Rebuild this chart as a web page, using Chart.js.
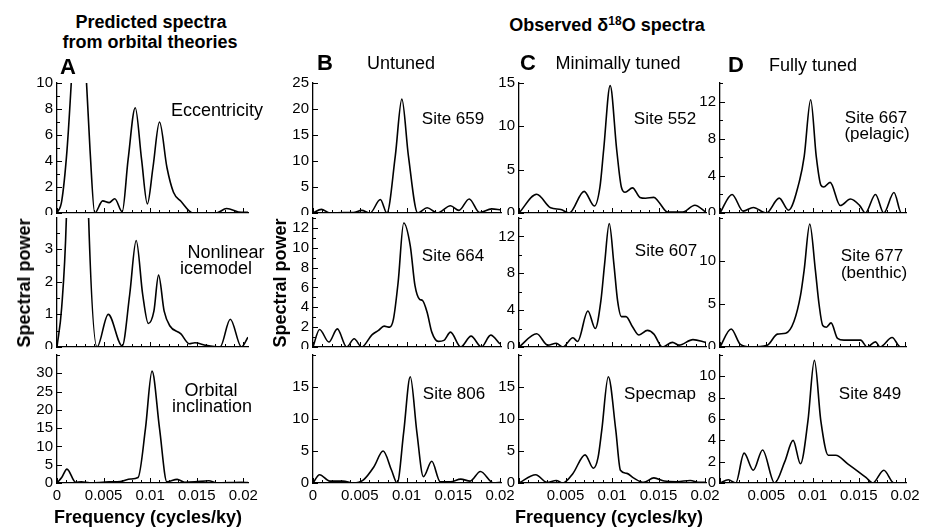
<!DOCTYPE html>
<html>
<head>
<meta charset="utf-8">
<script src="https://cdn.jsdelivr.net/npm/chart.js@4.4.1/dist/chart.umd.min.js"></script>
<style>
  html, body { margin: 0; padding: 0; background: #fff; }
  #fig { position: relative; width: 925px; height: 529px; overflow: hidden;
         font-family: "Liberation Sans", Arial, Helvetica, sans-serif; color: #000; }
  #fig canvas { position: absolute; }
  .t { position: absolute; white-space: nowrap; transform: translate(-50%, -50%);
       font-size: 18px; line-height: 1; }
  .b { font-weight: bold; }
  .s { font-size: 17px; }
  .rot { transform: translate(-50%, -50%) rotate(-90deg); }
  sup { font-size: 12px; vertical-align: 6px; line-height: 0; }
</style>
</head>
<body>
<div id="fig"></div>
<script>
// ---- data (frequency in cycles/ky, spectral power) ----

// A: predicted spectra
const freqEcc = [0, 0.0005, 0.00107, 0.00153, 0.0024, 0.00317, 0.00355, 0.00405, 0.0049, 0.0056, 0.0062, 0.007, 0.00763, 0.0084, 0.00908, 0.0097, 0.0103, 0.011, 0.0118, 0.0125, 0.0133, 0.0146, 0.0171, 0.0182, 0.0198, 0.0205];
const powEcc  = [0, 0.9, 4.8, 10, 22, 10, 4.8, 0, 0.93, 0.8, 1.1, 0.1, 4.1, 8.1, 4.1, 0.7, 3.5, 7.0, 3.5, 1.6, 0.9, 0, 0, 0.35, 0.05, 0.05];

const freqIce = [0, 0.0005, 0.001, 0.0022, 0.0034, 0.0043, 0.0055, 0.007, 0.0078, 0.0085, 0.0092, 0.0098, 0.0104, 0.0109, 0.0115, 0.0121, 0.0133, 0.0142, 0.0148, 0.016, 0.0175, 0.0186, 0.0198, 0.0205];
const powIce  = [0, 1.2, 3.9, 20, 3.9, 0, 1.0, 0.03, 1.6, 3.26, 1.6, 0.72, 1.1, 2.2, 1.1, 0.65, 0.4, 0.1, 0.13, 0.05, 0, 0.85, 0, 0.3];

const freqIncl = [0, 0.0005, 0.00107, 0.002, 0.0026, 0.0035, 0.0049, 0.0056, 0.0068, 0.0079, 0.0087, 0.0095, 0.0102, 0.011, 0.0118, 0.0129, 0.0137, 0.0148, 0.0163, 0.0171, 0.0198, 0.0205];
const powIncl  = [0, 1.5, 3.8, 0.2, 0.3, 0.05, 0.2, 0.3, 0.4, 1.1, 1.5, 15, 30.6, 15, 0.3, 1.0, 0.2, 0.3, 0.6, 0.05, 0.2, 0.1];

// B: untuned
const freq659 = [0, 0.0009, 0.0018, 0.0033, 0.0043, 0.0052, 0.0061, 0.0072, 0.0079, 0.0088, 0.0095, 0.0102, 0.0112, 0.0122, 0.0133, 0.0147, 0.0156, 0.0167, 0.0178, 0.0191, 0.0201];
const pow659  = [0, 0.7, 0, 0.1, 0.1, 0.5, 0, 2.6, 0, 11, 21.9, 11, 0, 1.0, 0, 1.4, 0.5, 2.7, 0.1, 0.8, 0.6];

const freq664 = [0, 0.0007, 0.0017, 0.0026, 0.0036, 0.0044, 0.0052, 0.0063, 0.007, 0.0076, 0.0082, 0.0086, 0.0091, 0.0097, 0.0104, 0.0109, 0.0114, 0.0117, 0.0122, 0.0127, 0.0134, 0.014, 0.0147, 0.0158, 0.0169, 0.018, 0.019, 0.02];
const pow664  = [0, 1.77, 0.5, 1.83, 0, 0.83, 0, 1.23, 1.67, 2.1, 2.0, 2.8, 6.5, 12.5, 10.2, 6.2, 4.8, 4.7, 3.5, 1.5, 0.57, 0.67, 1.5, 0, 1.1, 0, 1.2, 0.3];

const freq806 = [0, 0.0007, 0.0018, 0.0032, 0.0043, 0.0054, 0.0065, 0.0075, 0.0084, 0.009, 0.0097, 0.0104, 0.0111, 0.0118, 0.0127, 0.0136, 0.0147, 0.0158, 0.0168, 0.0179, 0.0193, 0.0201];
const pow806  = [0, 1.3, 0.3, 0.3, 0, 0.5, 2.5, 5.0, 2.0, 0, 8, 16.6, 8, 1.0, 3.4, 0.2, 0.2, 0.6, 0.3, 1.8, 0, 0.1];

// C: minimally tuned
const freq552 = [0, 0.0019, 0.0034, 0.0045, 0.0054, 0.007, 0.0081, 0.0087, 0.0091, 0.0098, 0.0105, 0.011, 0.0114, 0.0122, 0.013, 0.0136, 0.0145, 0.015, 0.016, 0.0176, 0.0189, 0.0201];
const pow552  = [0, 2.17, 0.6, 0.4, 0, 2.5, 0.8, 3, 7.3, 14.7, 7.3, 3, 2.4, 2.9, 1.8, 1.7, 1.8, 1.3, 0.1, 0.1, 0.9, 0.1];

const freq607 = [0, 0.0019, 0.0031, 0.004, 0.0047, 0.0058, 0.0063, 0.0074, 0.0082, 0.0088, 0.0092, 0.0097, 0.0102, 0.0106, 0.011, 0.0115, 0.0122, 0.0129, 0.0138, 0.0145, 0.0154, 0.0165, 0.0172, 0.0187, 0.0201];
const pow607  = [0, 1.44, 0.2, 0.4, 0, 1.0, 0.6, 3.9, 2.0, 5, 9, 13.4, 9, 5, 3.3, 3.3, 2.2, 1.3, 1.8, 1.4, 0, 0.5, 0.2, 0.8, 0.5];

const freqSpecmap = [0, 0.0018, 0.003, 0.004, 0.0047, 0.0058, 0.0071, 0.008, 0.0085, 0.0089, 0.0096, 0.0104, 0.0109, 0.0116, 0.0123, 0.0134, 0.0145, 0.0156, 0.017, 0.0184, 0.0194, 0.0201];
const powSpecmap  = [0, 1.3, 0.1, 0.4, 0, 1.5, 4.4, 2.3, 4, 8.3, 16.6, 8.3, 2.0, 1.5, 0.8, 0.1, 0.8, 0.3, 0.2, 0.4, 0.1, 0.1];

// D: fully tuned
const freq667 = [0, 0.0013, 0.0025, 0.0036, 0.005, 0.0064, 0.0074, 0.0086, 0.0091, 0.0098, 0.0104, 0.0109, 0.0112, 0.0119, 0.013, 0.0141, 0.0151, 0.0157, 0.0168, 0.0177, 0.0188, 0.0196, 0.0201];
const pow667  = [0, 2.0, 0.2, 0.6, 0, 1.6, 0.3, 3.5, 6.1, 12.2, 6.1, 3.0, 2.8, 3.3, 0.8, 1.5, 0.8, 0, 2.0, 0, 2.2, 0, 0];

const freq677 = [0, 0.0012, 0.0022, 0.0033, 0.0051, 0.0062, 0.0071, 0.008, 0.0087, 0.0091, 0.0097, 0.0103, 0.0107, 0.0111, 0.0115, 0.012, 0.0127, 0.0134, 0.0152, 0.0159, 0.0168, 0.0173, 0.0186, 0.0195, 0.0201];
const pow677  = [0, 2.1, 0.3, 0, 0.2, 1.5, 1.6, 3.0, 6, 9, 14.3, 9, 5, 2.5, 2.3, 2.8, 1.0, 0.8, 0.8, 0, 0.6, 0, 1.1, 0, 0];

const freq849 = [0, 0.0009, 0.0017, 0.0026, 0.0036, 0.0046, 0.0059, 0.007, 0.0079, 0.0087, 0.0095, 0.0102, 0.0109, 0.0117, 0.0125, 0.0138, 0.0149, 0.0158, 0.0165, 0.0177, 0.0188, 0.0198];
const pow849  = [0, 0.3, 0, 2.8, 1.2, 3.1, 0, 2.0, 4.0, 1.8, 5.8, 11.5, 5.8, 2.6, 2.6, 1.8, 1.1, 0.5, 0, 1.2, 0, 0];

// tick labels
const xTickVals = [0, 0.005, 0.01, 0.015, 0.02];
const xMinorVals = [0.001, 0.002, 0.003, 0.004, 0.006, 0.007, 0.008, 0.009, 0.011, 0.012, 0.013, 0.014, 0.016, 0.017, 0.018, 0.019];
const yTicksEcc = [0, 2, 4, 6, 8, 10];
const yTicksIce = [0, 1, 2, 3];
const yTicksIncl = [0, 5, 10, 15, 20, 25, 30];
const yTicks659 = [0, 5, 10, 15, 20, 25];
const yTicks664 = [0, 2, 4, 6, 8, 10, 12];
const yTicks806 = [0, 5, 10, 15];
const yTicks552 = [0, 5, 10, 15];
const yTicks607 = [0, 4, 8, 12];
const yTicksSpecmap = [0, 5, 10, 15];
const yTicks667 = [0, 4, 8, 12];
const yTicks677 = [0, 5, 10];
const yTicks849 = [0, 2, 4, 6, 8, 10];

// ---- layout (pixels of the 925x529 figure) ----
const cols = [
  { l: 57, r: 248, max: 0.0205, zero: true },
  { l: 313, r: 501, max: 0.0201, zero: true },
  { l: 519, r: 706, max: 0.0201, zero: false },
  { l: 720, r: 906, max: 0.0201, zero: false }
];
const rows = [ { t: 83, b: 213 }, { t: 218, b: 347 }, { t: 355, b: 483 } ];

const panels = [
  { c: 0, r: 0, f: freqEcc, p: powEcc, ymax: 10, ticks: yTicksEcc, minor: [1, 3, 5, 7, 9] },
  { c: 0, r: 1, f: freqIce, p: powIce, ymax: 3.95, ticks: yTicksIce, minor: [0.5, 1.5, 2.5, 3.5] },
  { c: 0, r: 2, f: freqIncl, p: powIncl, ymax: 35, ticks: yTicksIncl, minor: [35] },
  { c: 1, r: 0, f: freq659, p: pow659, ymax: 25, ticks: yTicks659, minor: [] },
  { c: 1, r: 1, f: freq664, p: pow664, ymax: 13, ticks: yTicks664, minor: [1, 3, 5, 7, 9, 11, 13] },
  { c: 1, r: 2, f: freq806, p: pow806, ymax: 20, ticks: yTicks806, minor: [20] },
  { c: 2, r: 0, f: freq552, p: pow552, ymax: 15, ticks: yTicks552, minor: [] },
  { c: 2, r: 1, f: freq607, p: pow607, ymax: 14, ticks: yTicks607, minor: [2, 6, 10, 14] },
  { c: 2, r: 2, f: freqSpecmap, p: powSpecmap, ymax: 20, ticks: yTicksSpecmap, minor: [20] },
  { c: 3, r: 0, f: freq667, p: pow667, ymax: 14, ticks: yTicks667, minor: [2, 6, 10, 14] },
  { c: 3, r: 1, f: freq677, p: pow677, ymax: 15, ticks: yTicks677, minor: [15] },
  { c: 3, r: 2, f: freq849, p: pow849, ymax: 12, ticks: yTicks849, minor: [12] }
];

const texts = [
  { s: 'Predicted spectra', x: 151, y: 22, cls: 'b' },
  { s: 'from orbital theories', x: 150, y: 42, cls: 'b' },
  { s: 'Observed &delta;<sup>18</sup>O spectra', x: 607, y: 25, cls: 'b' },
  { s: 'A', x: 68, y: 67, cls: 'b', fs: 22 },
  { s: 'B', x: 325, y: 63, cls: 'b', fs: 22 },
  { s: 'C', x: 528, y: 63, cls: 'b', fs: 22 },
  { s: 'D', x: 736, y: 65, cls: 'b', fs: 22 },
  { s: 'Untuned', x: 401, y: 63 },
  { s: 'Minimally tuned', x: 618, y: 63 },
  { s: 'Fully tuned', x: 813, y: 65 },
  { s: 'Eccentricity', x: 217, y: 110 },
  { s: 'Nonlinear', x: 226, y: 252 },
  { s: 'icemodel', x: 216, y: 268 },
  { s: 'Orbital', x: 211, y: 390 },
  { s: 'inclination', x: 212, y: 406 },
  { s: 'Site 659', x: 453, y: 118, cls: 's' },
  { s: 'Site 552', x: 665, y: 118, cls: 's' },
  { s: 'Site 667', x: 876, y: 117, cls: 's' },
  { s: '(pelagic)', x: 877, y: 133, cls: 's' },
  { s: 'Site 664', x: 453, y: 255, cls: 's' },
  { s: 'Site 607', x: 666, y: 250, cls: 's' },
  { s: 'Site 677', x: 872, y: 255, cls: 's' },
  { s: '(benthic)', x: 874, y: 272, cls: 's' },
  { s: 'Site 806', x: 454, y: 393, cls: 's' },
  { s: 'Specmap', x: 660, y: 393, cls: 's' },
  { s: 'Site 849', x: 870, y: 393, cls: 's' },
  { s: 'Spectral power', x: 24, y: 283, cls: 'b rot' },
  { s: 'Spectral power', x: 280, y: 283, cls: 'b rot' },
  { s: 'Frequency (cycles/ky)', x: 148, y: 517, cls: 'b' },
  { s: 'Frequency (cycles/ky)', x: 609, y: 517, cls: 'b' }
];

const fig = document.getElementById('fig');
const FONT = '"Liberation Sans", Arial, Helvetica, sans-serif';
const LEFT = 40, TOP = 10, RIGHT = 25;

// inward tick marks, like the printed figure
const inTicks = {
  id: 'inTicks',
  afterDraw(chart, args, o) {
    const { ctx, chartArea: a, scales: { x, y } } = chart;
    ctx.save();
    ctx.strokeStyle = '#000';
    ctx.lineWidth = 1;
    ctx.beginPath();
    const hy = (v, len) => { const py = Math.round(y.getPixelForValue(v)) + 0.5; ctx.moveTo(a.left, py); ctx.lineTo(a.left + len, py); };
    const vx = (v, len) => { const px = Math.round(x.getPixelForValue(v)) + 0.5; ctx.moveTo(px, a.bottom); ctx.lineTo(px, a.bottom - len); };
    o.yMajor.forEach(v => hy(v, 5));
    o.yMinor.forEach(v => hy(v, 3));
    xTickVals.forEach(v => vx(v, 5));
    xMinorVals.forEach(v => vx(v, 3));
    ctx.stroke();
    ctx.restore();
  }
};

panels.forEach(pn => {
  const col = cols[pn.c], row = rows[pn.r];
  const bottomRow = pn.r === 2;
  const xh = bottomRow ? 26 : 2;
  const cv = document.createElement('canvas');
  const w = col.r - col.l + LEFT + RIGHT;
  const h = row.b - row.t + TOP + xh;
  cv.width = w; cv.height = h;
  cv.style.left = (col.l - LEFT) + 'px';
  cv.style.top = (row.t - TOP) + 'px';
  fig.appendChild(cv);

  new Chart(cv, {
    type: 'line',
    data: {
      datasets: [{
        data: pn.f.map((f, i) => ({ x: f, y: pn.p[i] })),
        borderColor: '#000',
        borderWidth: 1.6,
        pointRadius: 0,
        cubicInterpolationMode: 'monotone',
        fill: false
      }]
    },
    options: {
      responsive: false,
      animation: false,
      events: [],
      layout: { padding: { left: 0, top: TOP, right: RIGHT, bottom: 0 } },
      plugins: {
        legend: { display: false },
        tooltip: { enabled: false },
        inTicks: { yMajor: pn.ticks, yMinor: pn.minor }
      },
      scales: {
        x: {
          type: 'linear', min: 0, max: col.max,
          afterBuildTicks: s => { s.ticks = xTickVals.map(v => ({ value: v })); },
          afterFit: s => { s.height = xh; s.paddingLeft = 0; s.paddingRight = 0; },
          grid: { display: true, drawOnChartArea: false, drawTicks: false },
          border: { display: true, color: '#000', width: 1.3 },
          ticks: {
            display: bottomRow, padding: 4, color: '#000', maxRotation: 0, autoSkip: false,
            font: { family: FONT, size: 15 },
            callback: v => (v === 0 && !col.zero) ? '' : String(v)
          }
        },
        y: {
          type: 'linear', min: 0, max: pn.ymax,
          afterBuildTicks: s => { s.ticks = pn.ticks.map(v => ({ value: v })); },
          afterFit: s => { s.width = LEFT; s.paddingTop = 0; s.paddingBottom = 0; },
          grid: { display: true, drawOnChartArea: false, drawTicks: false },
          border: { display: true, color: '#000', width: 1.3 },
          ticks: { padding: 4, color: '#000', autoSkip: false, font: { family: FONT, size: 15 } }
        }
      }
    },
    plugins: [inTicks]
  });
});

texts.forEach(t => {
  const d = document.createElement('div');
  d.className = 't ' + (t.cls || '');
  d.style.left = t.x + 'px';
  d.style.top = t.y + 'px';
  if (t.fs) d.style.fontSize = t.fs + 'px';
  d.innerHTML = t.s;
  fig.appendChild(d);
});
</script>
</body>
</html>
